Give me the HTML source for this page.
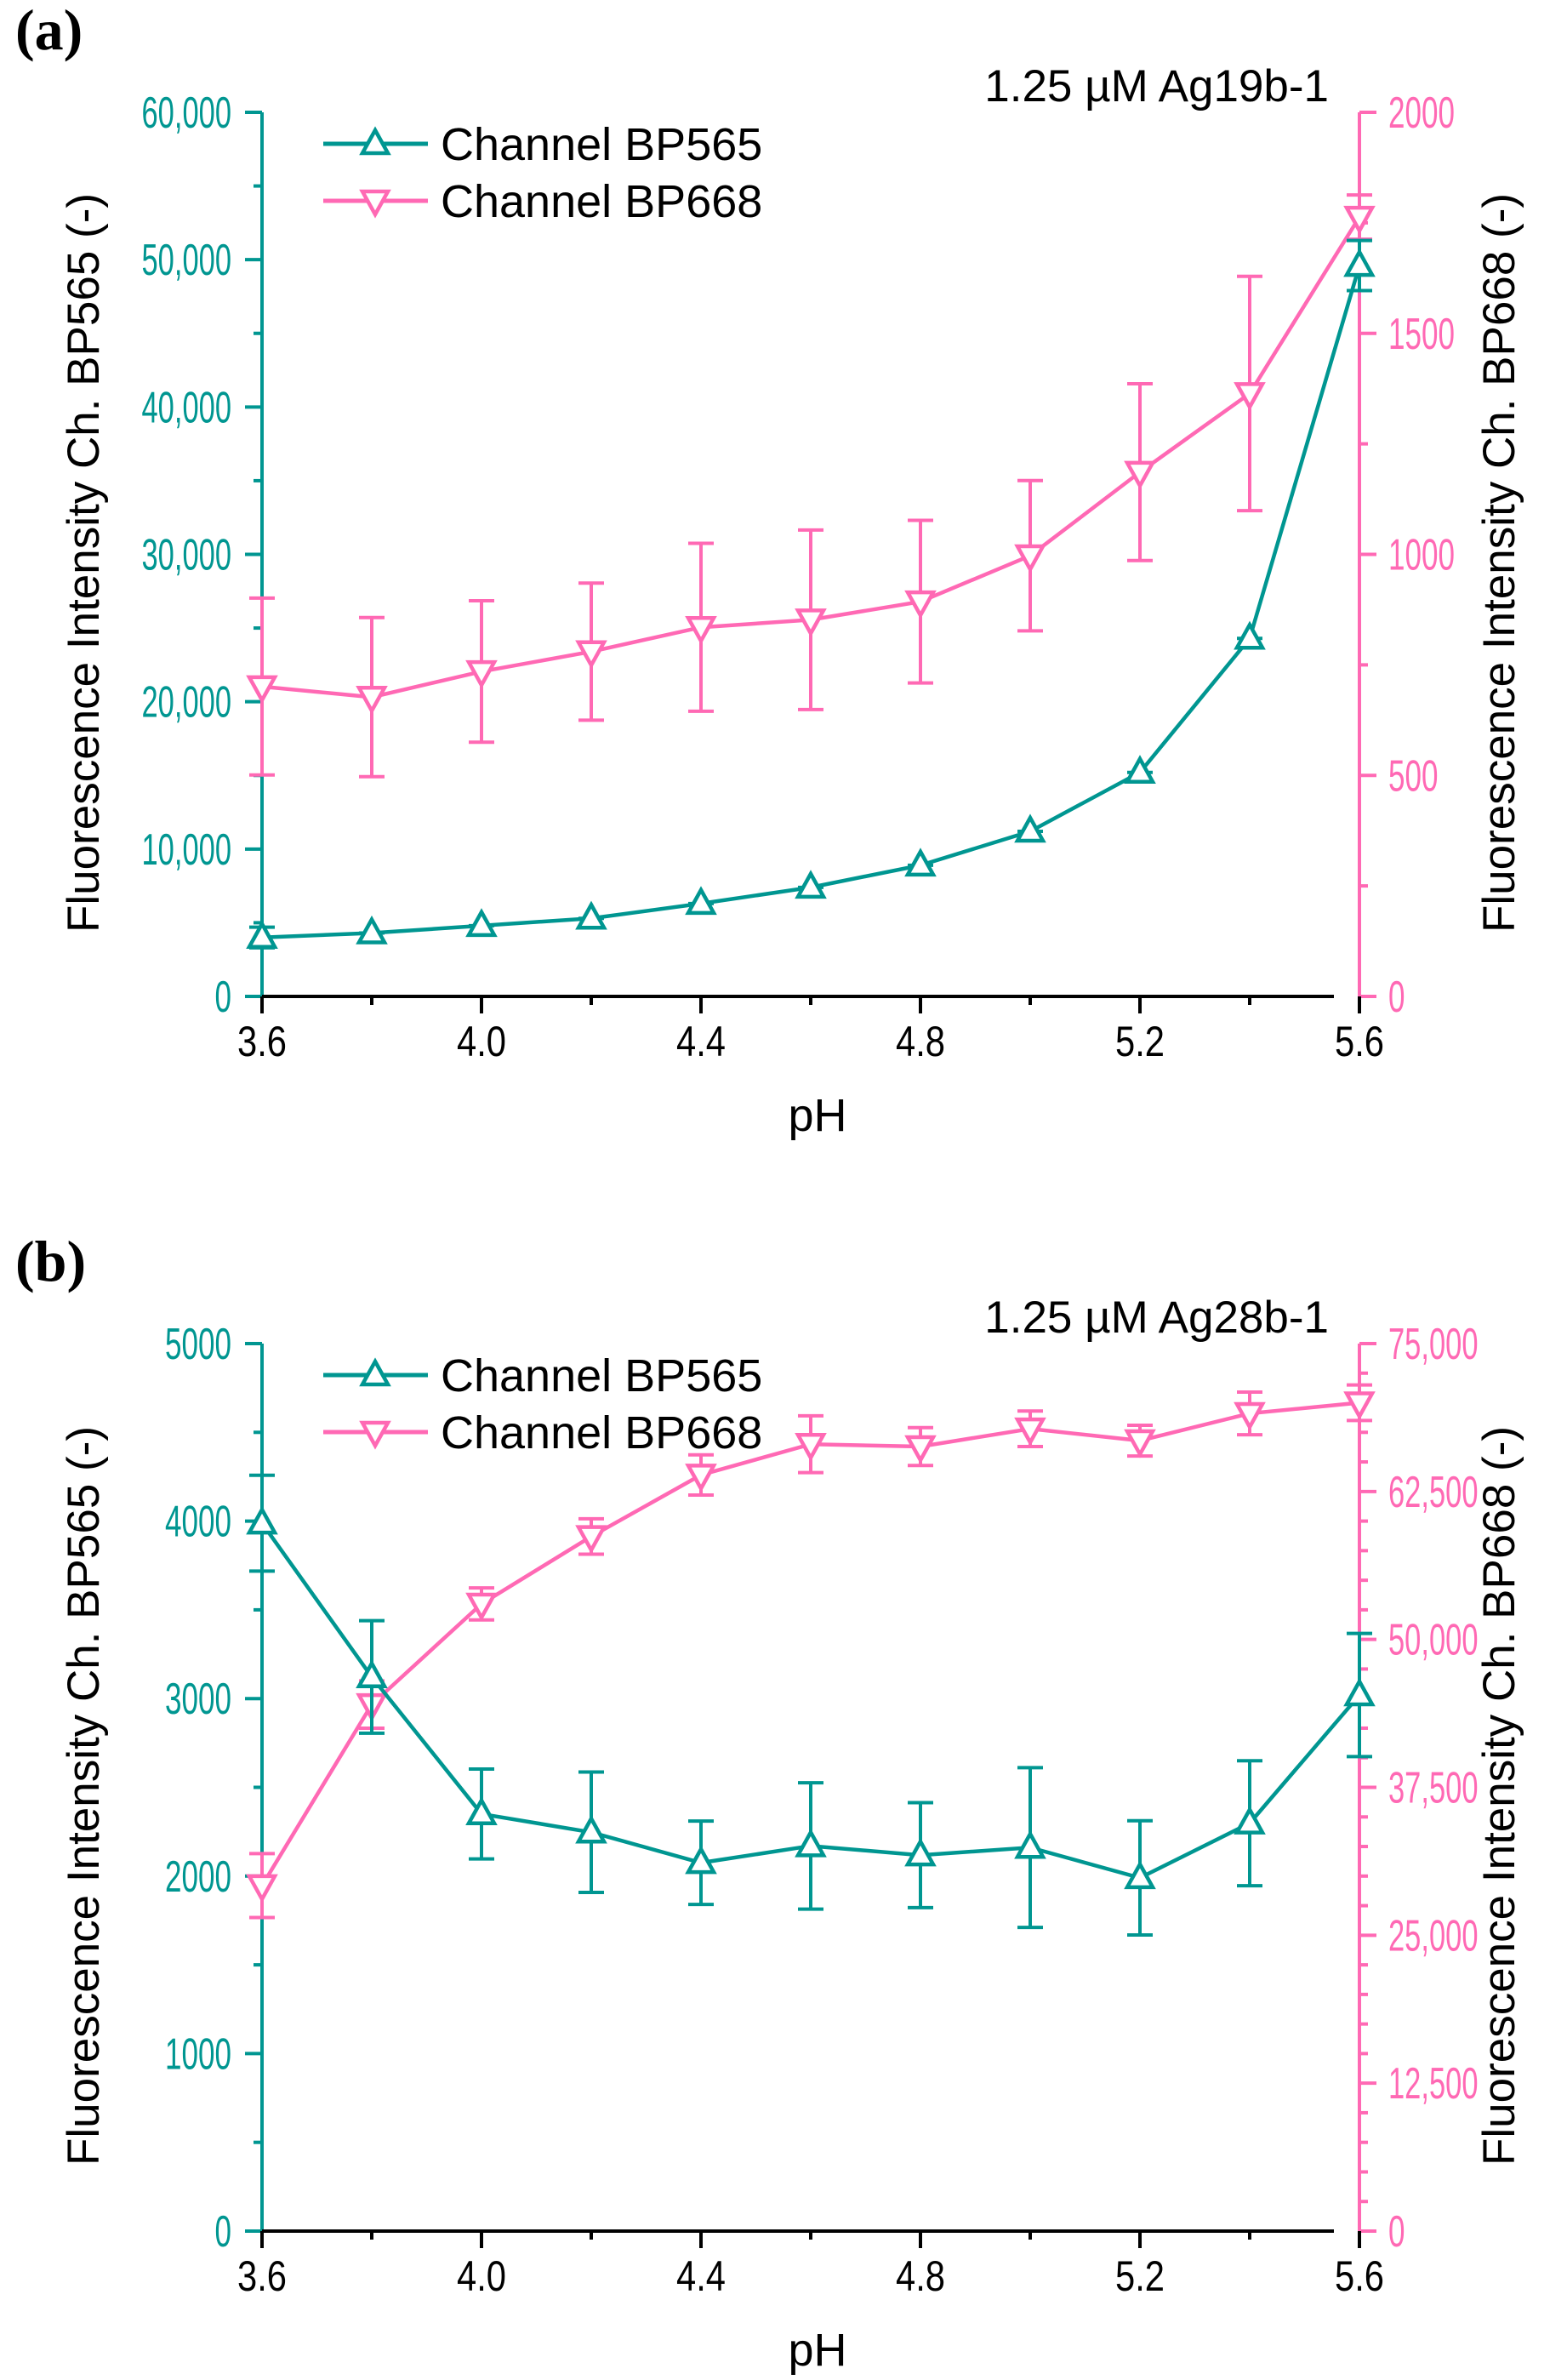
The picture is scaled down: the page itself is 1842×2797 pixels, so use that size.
<!DOCTYPE html>
<html><head><meta charset="utf-8">
<style>html,body{margin:0;padding:0;background:#fff}svg{display:block}</style>
</head><body>
<svg id="s" xmlns="http://www.w3.org/2000/svg" width="1842" height="2797" viewBox="0 0 1842 2797" font-family="Liberation Sans, Arial, sans-serif"></svg>
<script>
const T='#009691',P='#ff69b4';
const s=document.getElementById('s');let h='';
const xs=[3.6,3.8,4.0,4.2,4.4,4.6,4.8,5.0,5.2,5.4,5.6];
const X0=308,X1=1598;const px=v=>X0+(v-3.6)/2*(X1-X0);
function tl(t){let w=0;for(const ch of t)w+=(ch==','?8:19.5);return `textLength="${w}" lengthAdjust="spacingAndGlyphs"`;}
function chart(o){
 const y0=o.y0,yt=o.yt;
 const yl=v=>y0-(v/o.lmax)*(y0-yt), yr=v=>y0-(v/o.rmax)*(y0-yt);
 h+=`<line x1="${X0}" y1="${yt}" x2="${X0}" y2="${y0}" stroke="${T}" stroke-width="4"/>`;
 for(let i=0;i<=o.ln*2;i++){const v=o.lmax*i/(o.ln*2),y=yl(v);const maj=i%2==0;
  h+=`<line x1="${X0-(maj?20:10)}" y1="${y}" x2="${X0}" y2="${y}" stroke="${T}" stroke-width="4"/>`;
  if(maj){const t=o.lfmt(v);h+=`<text x="272" y="${y+18}" text-anchor="end" font-size="52" fill="${T}" ${tl(t)}>${t}</text>`;}}
 h+=`<line x1="${X1}" y1="${yt}" x2="${X1}" y2="${y0}" stroke="${P}" stroke-width="4"/>`;
 const rsub=o.rsub;
 for(let i=0;i<=o.rn*rsub;i++){const v=o.rmax*i/(o.rn*rsub),y=yr(v);const maj=i%rsub==0;
  h+=`<line x1="${X1}" y1="${y}" x2="${X1+(maj?20:10)}" y2="${y}" stroke="${P}" stroke-width="4"/>`;
  if(maj){const t=o.rfmt(v);h+=`<text x="1632" y="${y+18}" font-size="52" fill="${P}" ${tl(t)}>${t}</text>`;}}
 h+=`<line x1="${X0}" y1="${y0}" x2="${X1-30}" y2="${y0}" stroke="#000" stroke-width="4"/>`;
 xs.forEach((v,i)=>{const x=px(v),maj=i%2==0;
  h+=`<line x1="${x}" y1="${y0}" x2="${x}" y2="${y0+(maj?20:10)}" stroke="#000" stroke-width="4"/>`;
  if(maj)h+=`<text x="${x}" y="${y0+70}" text-anchor="middle" font-size="50" textLength="58" lengthAdjust="spacingAndGlyphs">${v.toFixed(1)}</text>`;});
 h+=`<text x="961" y="${y0+158}" text-anchor="middle" font-size="54">pH</text>`;
 const cy=(y0+yt)/2+10;
 h+=`<text transform="translate(116,${cy}) rotate(-90)" text-anchor="middle" font-size="53">Fluorescence Intensity Ch. BP565 (-)</text>`;
 h+=`<text transform="translate(1780,${cy}) rotate(-90)" text-anchor="middle" font-size="53">Fluorescence Intensity Ch. BP668 (-)</text>`;
 h+=`<text x="1562" y="${yt-13}" text-anchor="end" font-size="53">${o.ann}</text>`;
 h+=`<text x="18" y="${yt-74}" font-family="Liberation Serif, serif" font-weight="bold" font-size="68">${o.lab}</text>`;
 function ser(d,e,f,c,up){
  let pts=d.map((v,i)=>[px(xs[i]),f(v)]);
  e.forEach((er,i)=>{const [x]=pts[i];const a=f(d[i]+er),b=f(d[i]-er);
   h+=`<path d="M${x},${a}V${b}M${x-15},${a}h30M${x-15},${b}h30" stroke="${c}" stroke-width="4" fill="none"/>`;});
  h+=`<polyline points="${pts.map(p=>p.join(',')).join(' ')}" fill="none" stroke="${c}" stroke-width="4.5"/>`;
  pts.forEach(([x,y])=>h+=mk(x,y,c,up));
 }
 ser(o.r,o.re,yr,P,false);
 ser(o.l,o.le,yl,T,true);
 const ly=yt+37;
 h+=`<line x1="380" y1="${ly}" x2="503" y2="${ly}" stroke="${T}" stroke-width="5"/>`+mk(441,ly,T,true);
 h+=`<line x1="380" y1="${ly+67}" x2="503" y2="${ly+67}" stroke="${P}" stroke-width="5"/>`+mk(441,ly+67,P,false);
 h+=`<text x="518" y="${ly+19}" font-size="54">Channel BP565</text><text x="518" y="${ly+86}" font-size="54">Channel BP668</text>`;
}
function mk(x,y,c,up){const a=13;
 return up?`<path d="M${x},${y-a-3}L${x+a+2},${y+a-2}H${x-a-2}Z" fill="#fff" stroke="${c}" stroke-width="4.5"/>`
 :`<path d="M${x},${y+a+3}L${x+a+2},${y-a+2}H${x-a-2}Z" fill="#fff" stroke="${c}" stroke-width="4.5"/>`;}
const c3=v=>v.toLocaleString('en-US');
chart({y0:1171,yt:132,lmax:60000,ln:6,rmax:2000,rn:4,rsub:2,lfmt:c3,rfmt:v=>String(v),ann:'1.25 µM Ag19b-1',lab:'(a)',
 l:[4000,4300,4800,5300,6300,7400,8900,11200,15200,24300,49600],le:[700,0,0,0,0,0,0,0,0,0,1700],
 r:[701,677,735,780,835,852,893,997,1186,1364,1763],re:[200,180,160,155,190,203,184,170,200,265,50]});
chart({y0:2622,yt:1579,lmax:5000,ln:5,rmax:75000,rn:6,rsub:5,lfmt:v=>String(v),rfmt:c3,ann:'1.25 µM Ag28b-1',lab:'(b)',
 l:[3988,3122,2350,2247,2075,2170,2118,2161,1990,2298,3020],le:[270,317,253,339,235,356,296,450,322,352,347],
 r:[29200,44500,53000,58700,63900,66500,66300,67800,66800,69100,70000],re:[2700,2000,1350,1500,1700,2400,1600,1500,1300,1800,1500]});
s.innerHTML=h;
</script>
</body></html>
